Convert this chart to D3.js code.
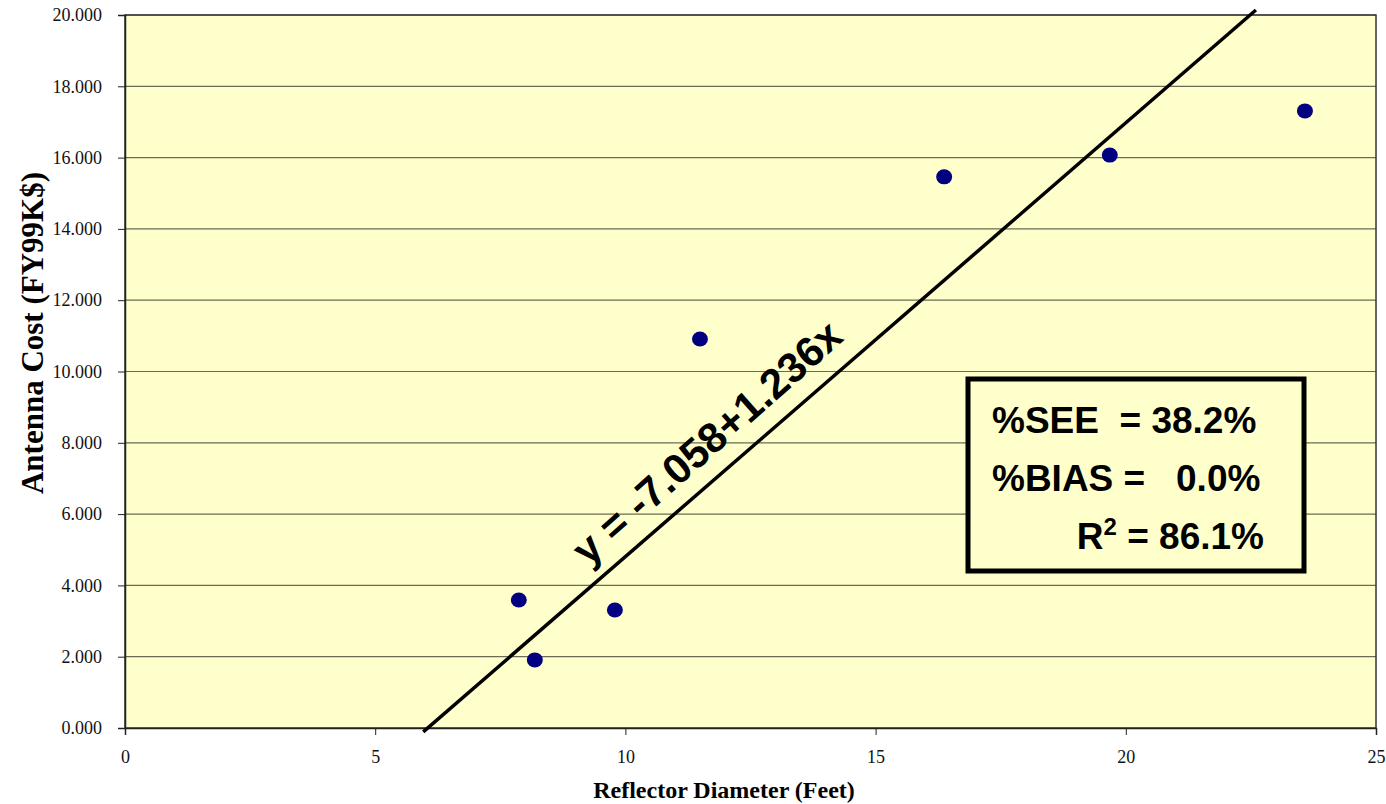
<!DOCTYPE html>
<html>
<head>
<meta charset="utf-8">
<script src="https://cdn.jsdelivr.net/npm/d3@7"></script>
<style>
  body { margin: 0; background: #fff; }
  svg { display: block; }
</style>
</head>
<body>
<svg id="chart" width="1386" height="804"></svg>
<script>
// data
var diameter = [7.87, 8.19, 9.79, 11.49, 16.37, 19.68, 23.58];
var cost = [3.59, 1.91, 3.31, 10.91, 15.46, 16.07, 17.31];
var fitX = [5.96, 22.6];
var fitY = [-0.11, 20.14];
var xTicks = [0, 5, 10, 15, 20, 25];
var yTicks = [0, 2, 4, 6, 8, 10, 12, 14, 16, 18, 20];
var statLines = ["%SEE  = 38.2%", "%BIAS =   0.0%"];

var svg = d3.select('#chart');
// plot area edges (note: "top" is reserved on window, so use plot*)
var plotL = 125, plotR = 1376, plotT = 15, plotB = 728;

var x = d3.scaleLinear().domain([0, 25]).range([plotL, plotR]);
var y = d3.scaleLinear().domain([0, 20]).range([plotB, plotT]);

// plot background
svg.append('rect')
    .attr('x', plotL).attr('y', plotT)
    .attr('width', plotR - plotL).attr('height', plotB - plotT)
    .attr('fill', '#ffffcc');

// horizontal gridlines
svg.selectAll('line.grid')
    .data(yTicks.slice(1))
    .enter().append('line')
    .attr('class', 'grid')
    .attr('x1', plotL).attr('x2', plotR)
    .attr('y1', function(d) { return y(d); })
    .attr('y2', function(d) { return y(d); })
    .attr('stroke', '#6b6b55').attr('stroke-width', 1.2);

// plot frame
svg.append('rect')
    .attr('x', plotL).attr('y', plotT)
    .attr('width', plotR - plotL).attr('height', plotB - plotT)
    .attr('fill', 'none').attr('stroke', '#333').attr('stroke-width', 1.5);

// axes
var yAxis = d3.axisLeft(y).tickValues(yTicks).tickSize(7).tickPadding(16)
    .tickFormat(d3.format('.3f'));
var xAxis = d3.axisBottom(x).tickValues(xTicks).tickSize(7).tickPadding(15)
    .tickFormat(d3.format('d'));

var gy = svg.append('g').attr('transform', 'translate(' + plotL + ',0)').call(yAxis);
var gx = svg.append('g').attr('transform', 'translate(0,' + plotB + ')').call(xAxis);
[gy, gx].forEach(function(g) {
    g.select('.domain').attr('stroke', '#222').attr('stroke-width', 1.5);
    g.selectAll('.tick line').attr('stroke', '#222');
    g.selectAll('.tick text')
        .attr('font-family', '"Liberation Serif", "Times New Roman", serif')
        .attr('font-size', 18).attr('fill', '#111');
});

// fit line
svg.append('line')
    .attr('x1', x(fitX[0])).attr('y1', y(fitY[0]))
    .attr('x2', x(fitX[1])).attr('y2', y(fitY[1]))
    .attr('stroke', '#000').attr('stroke-width', 3.5);

// points
svg.selectAll('ellipse.pt')
    .data(diameter)
    .enter().append('ellipse')
    .attr('class', 'pt')
    .attr('cx', function(d) { return x(d); })
    .attr('cy', function(d, i) { return y(cost[i]); })
    .attr('rx', 8).attr('ry', 7.5)
    .attr('fill', '#000080');

// equation label just above the line
svg.append('text')
    .attr('transform', 'translate(588,567) rotate(-41.5)')
    .attr('font-family', '"Liberation Sans", Arial, sans-serif')
    .attr('font-weight', 'bold').attr('font-size', 42)
    .attr('fill', '#000')
    .text('y = -7.058+1.236x');

// statistics box
svg.append('rect')
    .attr('x', 968).attr('y', 379).attr('width', 336).attr('height', 192)
    .attr('fill', '#ffffcc').attr('stroke', '#000').attr('stroke-width', 5);

svg.selectAll('text.stat')
    .data(statLines)
    .enter().append('text')
    .attr('class', 'stat')
    .attr('x', 992)
    .attr('y', function(d, i) { return 433 + i * 58; })
    .attr('font-family', '"Liberation Sans", Arial, sans-serif')
    .attr('font-weight', 'bold').attr('font-size', 37)
    .style('white-space', 'pre')
    .text(function(d) { return d; });

var r2 = svg.append('text')
    .attr('x', 1264).attr('y', 549)
    .attr('text-anchor', 'end')
    .attr('font-family', '"Liberation Sans", Arial, sans-serif')
    .attr('font-weight', 'bold').attr('font-size', 37);
r2.append('tspan').text('R');
r2.append('tspan').attr('dy', -14).attr('font-size', 24).text('2');
r2.append('tspan').attr('dy', 14).text(' = 86.1%');

// axis titles
svg.append('text')
    .attr('x', 724).attr('y', 798)
    .attr('text-anchor', 'middle')
    .attr('font-family', '"Liberation Serif", "Times New Roman", serif')
    .attr('font-weight', 'bold').attr('font-size', 24)
    .text('Reflector Diameter (Feet)');

svg.append('text')
    .attr('transform', 'translate(43,333) rotate(-90)')
    .attr('text-anchor', 'middle')
    .attr('font-family', '"Liberation Serif", "Times New Roman", serif')
    .attr('font-weight', 'bold').attr('font-size', 31)
    .text('Antenna Cost (FY99K$)');
</script>
</body>
</html>
